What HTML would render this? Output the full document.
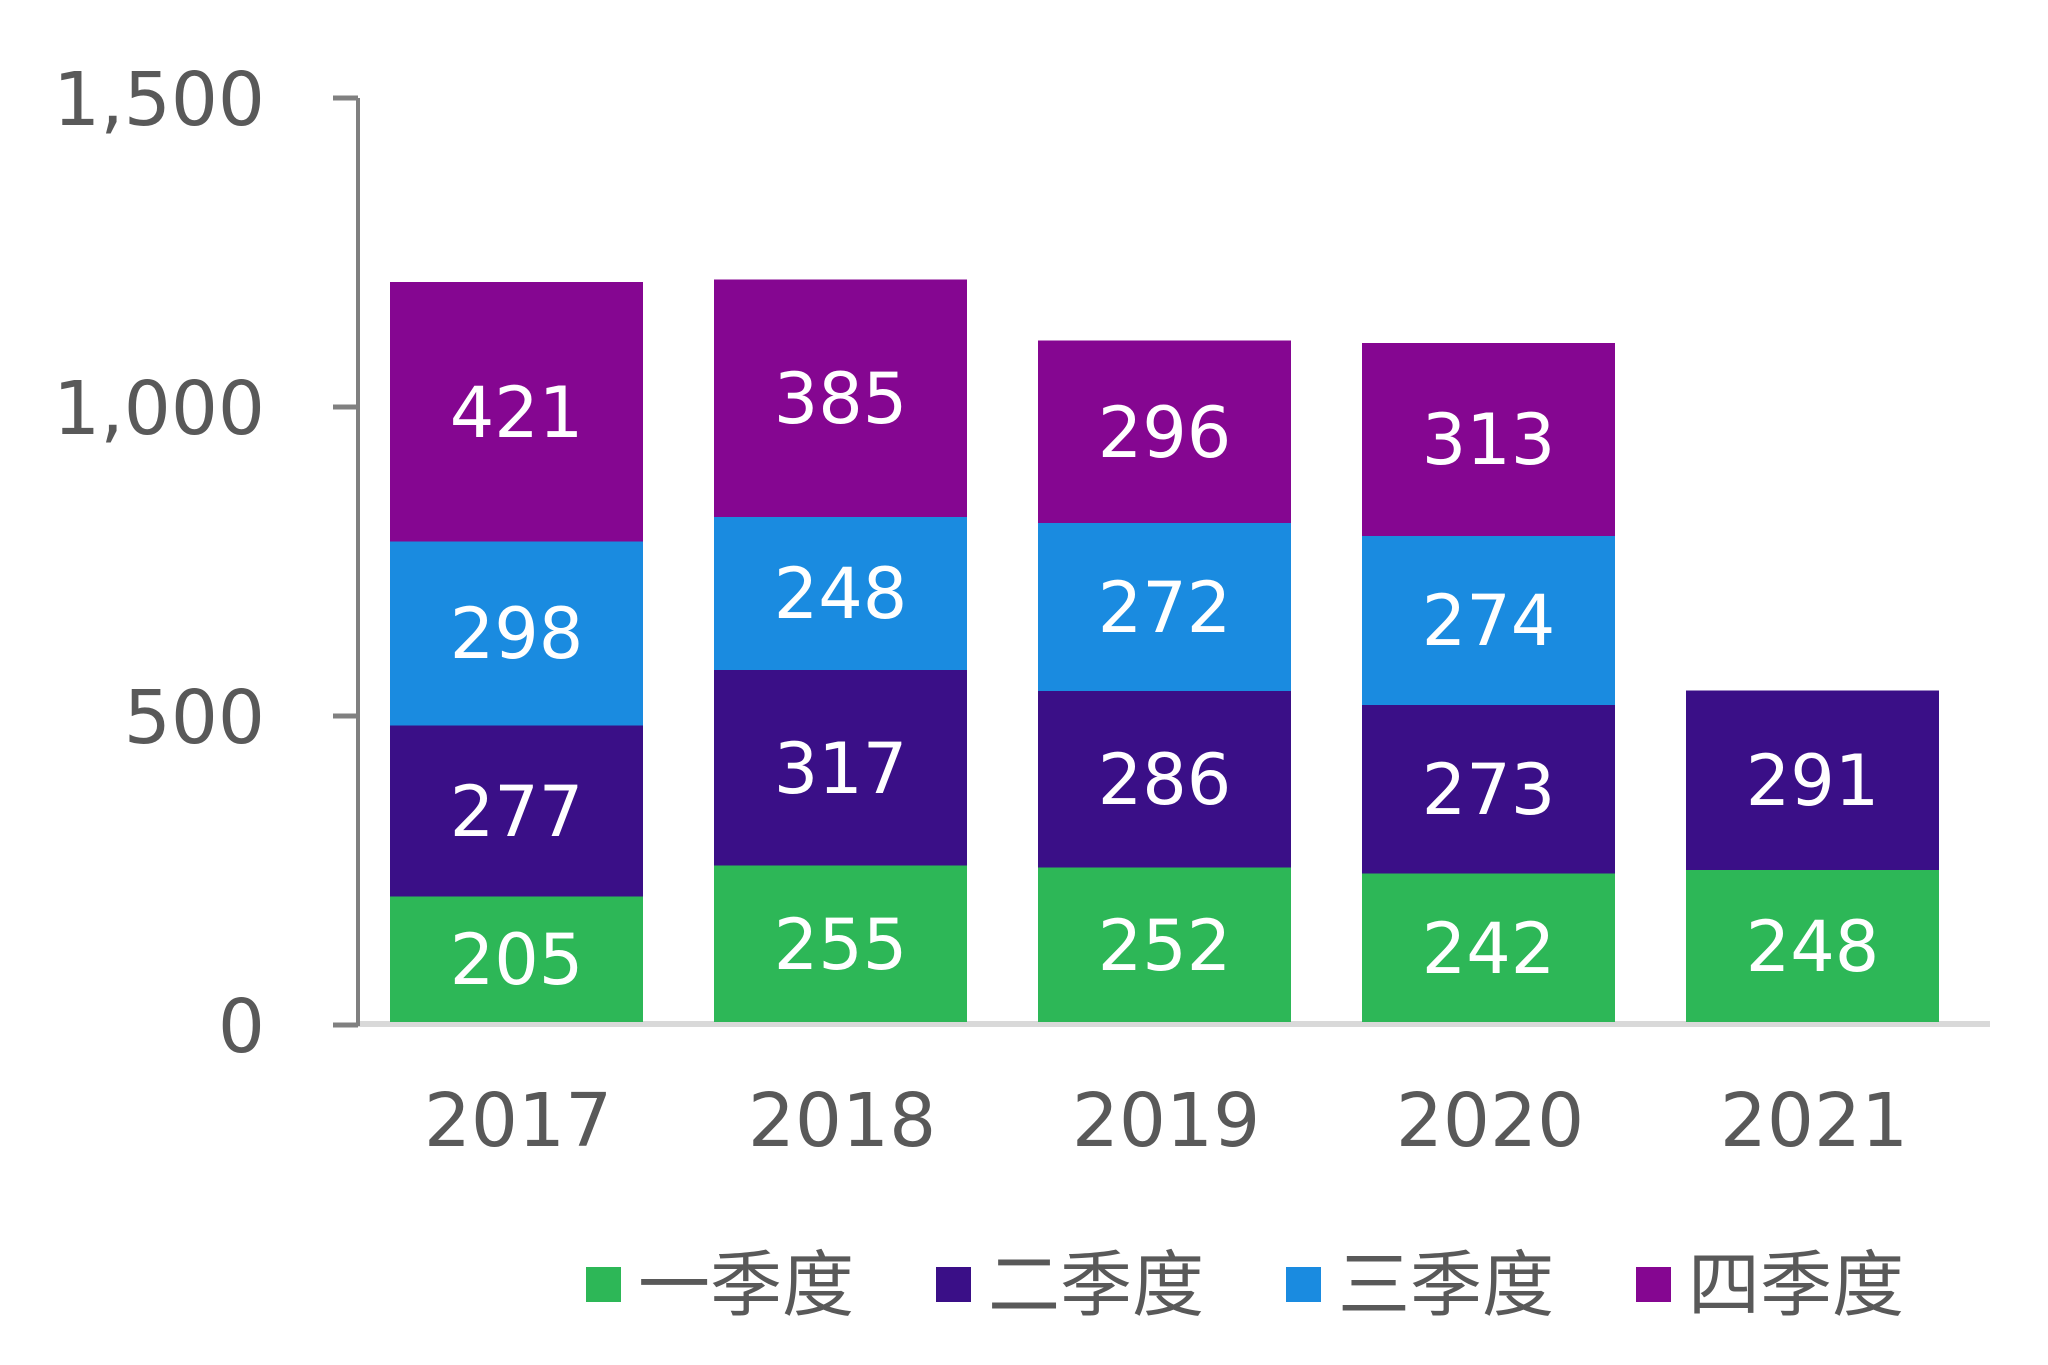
<!DOCTYPE html>
<html><head><meta charset="utf-8"><style>html,body{margin:0;padding:0;background:#fff}svg{display:block}</style></head>
<body>
<svg width="2048" height="1365" viewBox="0 0 2048 1365" xmlns="http://www.w3.org/2000/svg" font-family="'DejaVu Sans','Liberation Sans','Noto Sans CJK SC',sans-serif">
<line x1="356" y1="1024" x2="1990" y2="1024" stroke="#d9d9d9" stroke-width="6"/>
<g>
<rect x="390" y="896.5" width="253" height="125.5" fill="#2db757"/>
<rect x="390" y="725.5" width="253" height="171" fill="#3a0f87"/>
<rect x="390" y="541.5" width="253" height="184" fill="#1a8be0"/>
<rect x="390" y="282" width="253" height="259.5" fill="#850691"/>
<rect x="714" y="865.5" width="253" height="156.5" fill="#2db757"/>
<rect x="714" y="670" width="253" height="195.5" fill="#3a0f87"/>
<rect x="714" y="517" width="253" height="153" fill="#1a8be0"/>
<rect x="714" y="279.5" width="253" height="237.5" fill="#850691"/>
<rect x="1038" y="867.5" width="253" height="154.5" fill="#2db757"/>
<rect x="1038" y="691" width="253" height="176.5" fill="#3a0f87"/>
<rect x="1038" y="523" width="253" height="168" fill="#1a8be0"/>
<rect x="1038" y="340.5" width="253" height="182.5" fill="#850691"/>
<rect x="1362" y="873.5" width="253" height="148.5" fill="#2db757"/>
<rect x="1362" y="705" width="253" height="168.5" fill="#3a0f87"/>
<rect x="1362" y="536" width="253" height="169" fill="#1a8be0"/>
<rect x="1362" y="343" width="253" height="193" fill="#850691"/>
<rect x="1686" y="870" width="253" height="152" fill="#2db757"/>
<rect x="1686" y="690.5" width="253" height="179.5" fill="#3a0f87"/>
</g>
<g fill="#fff" font-size="70" text-anchor="middle">
<text x="516.5" y="984">205</text><text x="516.5" y="836">277</text><text x="516.5" y="658">298</text><text x="516.5" y="437">421</text>
<text x="840.5" y="969">255</text><text x="840.5" y="793">317</text><text x="840.5" y="618">248</text><text x="840.5" y="423">385</text>
<text x="1164.5" y="970">252</text><text x="1164.5" y="804">286</text><text x="1164.5" y="632">272</text><text x="1164.5" y="457">296</text>
<text x="1488.5" y="973">242</text><text x="1488.5" y="814">273</text><text x="1488.5" y="645">274</text><text x="1488.5" y="464">313</text>
<text x="1812.5" y="971">248</text><text x="1812.5" y="805">291</text>
</g>
<line x1="358" y1="98" x2="358" y2="1026" stroke="#808080" stroke-width="4"/>
<g stroke="#808080" stroke-width="5">
<line x1="333" y1="98" x2="358" y2="98"/><line x1="333" y1="407" x2="358" y2="407"/>
<line x1="333" y1="716" x2="358" y2="716"/><line x1="333" y1="1025" x2="358" y2="1025"/>
</g>
<g fill="#595959" font-size="74" text-anchor="end">
<text x="265" y="125">1,500</text><text x="265" y="434">1,000</text>
<text x="265" y="743">500</text><text x="265" y="1052">0</text>
</g>
<g fill="#595959" font-size="74" text-anchor="middle">
<text x="518" y="1146">2017</text><text x="842" y="1146">2018</text><text x="1166" y="1146">2019</text><text x="1490" y="1146">2020</text><text x="1814" y="1146">2021</text>
</g>
<g font-size="72" fill="#595959">
<rect x="586" y="1267" width="35" height="35" fill="#2db757"/><text x="638" y="1310">一季度</text>
<rect x="936" y="1267" width="35" height="35" fill="#3a0f87"/><text x="988" y="1310">二季度</text>
<rect x="1286" y="1267" width="35" height="35" fill="#1a8be0"/><text x="1338" y="1310">三季度</text>
<rect x="1636" y="1267" width="35" height="35" fill="#850691"/><text x="1688" y="1310">四季度</text>
</g>
</svg>
</body></html>
